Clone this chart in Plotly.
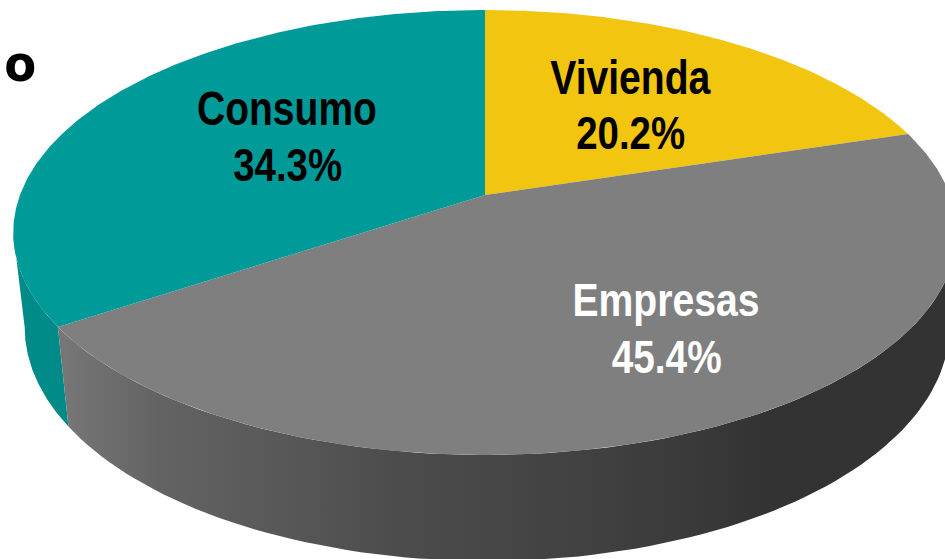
import json
import numpy as np
import plotly.graph_objects as go

# Data
categories = ["Vivienda", "Empresas", "Consumo"]
shares = [20.2, 45.4, 34.3]
stray_title_text = "o"

# Projection of the tilted disc onto the page
W, H = 945, 559
CX, CY = 485, 195
RX, RY, K = 465, 216.2, 0.1685
WALL_XS, WALL_YS, WALL_D, WALL_DX = 0.98, 1.05, 93.0, 2.0

TOP_COLORS = {"Vivienda": "#F2C511", "Empresas": "#7F7F7F", "Consumo": "#009A98"}
TEAL_WALL = "#008B88"
GREY_WALL_STOPS = [(65, "#767676"), (160, "#636363"), (300, "#565656"), (400, "#4C4C4C"),
                   (500, "#464646"), (600, "#404040"), (700, "#393939"), (760, "#333333"), (947, "#333333")]


def top_ring(theta):
    X, Y = np.sin(theta), np.cos(theta)
    d = 1 + K * Y
    return RX * X / d, RY * Y / d


def bottom_ring(theta):
    u, v = top_ring(theta)
    return WALL_XS * u + WALL_DX, WALL_YS * v - WALL_D


def page(u, v):
    return CX + np.asarray(u), CY - np.asarray(v)


fractions = np.array(shares) / sum(shares)
edges = np.concatenate([[0], np.cumsum(fractions)]) * 2 * np.pi
right_extreme = np.arccos(-K)
left_extreme = 2 * np.pi - right_extreme

fig = go.Figure()


def add_wall(t0, t1, **style):
    t = np.linspace(t0, t1, 90)
    ut, vt = top_ring(t)
    ub, vb = bottom_ring(t[::-1])
    x, y = page(np.r_[ut, ub], np.r_[vt, vb])
    fig.add_trace(go.Scatter(x=x, y=y, mode="lines", fill="toself", line=dict(width=0),
                             hoverinfo="skip", showlegend=False, **style))


add_wall(edges[2], left_extreme, fillcolor=TEAL_WALL)
x0, x1 = GREY_WALL_STOPS[0][0], GREY_WALL_STOPS[-1][0]
add_wall(right_extreme, edges[2],
         fillgradient=dict(type="horizontal", start=x0, stop=x1,
                           colorscale=[[(p - x0) / (x1 - x0), c] for p, c in GREY_WALL_STOPS]))

for i, name in enumerate(categories):
    t = np.linspace(edges[i], edges[i + 1], 200)
    u, v = top_ring(t)
    x, y = page(np.r_[0, u, 0], np.r_[0, v, 0])
    fig.add_trace(go.Scatter(x=x, y=y, mode="lines", fill="toself", name=name,
                             fillcolor=TOP_COLORS[name], line=dict(width=0),
                             hoverinfo="skip", showlegend=False))

FONT = "Liberation Sans, Arial, sans-serif"
label_style = {
    "Vivienda": dict(x=630, y1=77, y2=132, color="black", size=49, w1=160, w2=109),
    "Consumo": dict(x=287, y1=108, y2=164, color="black", size=49, w1=180, w2=109),
    "Empresas": dict(x=666, y1=300, y2=356, color="white", size=46, w1=187, w2=110),
}
annotations = []
squeeze = []
for name, value in zip(categories, shares):
    s = label_style[name]
    annotations.append(dict(x=s["x"], y=s["y1"], text=f"<b>{name}</b>", showarrow=False,
                            font=dict(family=FONT, size=s["size"], color=s["color"])))
    squeeze.append(s["w1"])
    annotations.append(dict(x=s["x"], y=s["y2"], text=f"<b>{value:.1f}%</b>", showarrow=False,
                            font=dict(family=FONT, size=47, color=s["color"])))
    squeeze.append(s["w2"])
annotations.append(dict(x=20, y=64, text=f"<b>{stray_title_text}</b>", showarrow=False,
                        font=dict(family="DejaVu Sans", size=50, color="black")))
squeeze.append(32)

fig.update_layout(
    width=W, height=H, margin=dict(l=0, r=0, t=0, b=0, pad=0),
    paper_bgcolor="white", plot_bgcolor="white", showlegend=False,
    annotations=annotations,
    xaxis=dict(range=[0, W], visible=False, fixedrange=True),
    yaxis=dict(range=[H, 0], visible=False, fixedrange=True),
)

post = """
document.body.style.margin = '0';
document.documentElement.style.overflow = 'hidden';
var widths = %s;
document.querySelectorAll('.annotation-text').forEach(function (el, i) {
  if (widths[i]) {
    el.setAttribute('textLength', widths[i]);
    el.setAttribute('lengthAdjust', 'spacingAndGlyphs');
  }
});
""" % json.dumps(squeeze)
fig.write_html("out.html", config={"displayModeBar": False}, post_script=post)
